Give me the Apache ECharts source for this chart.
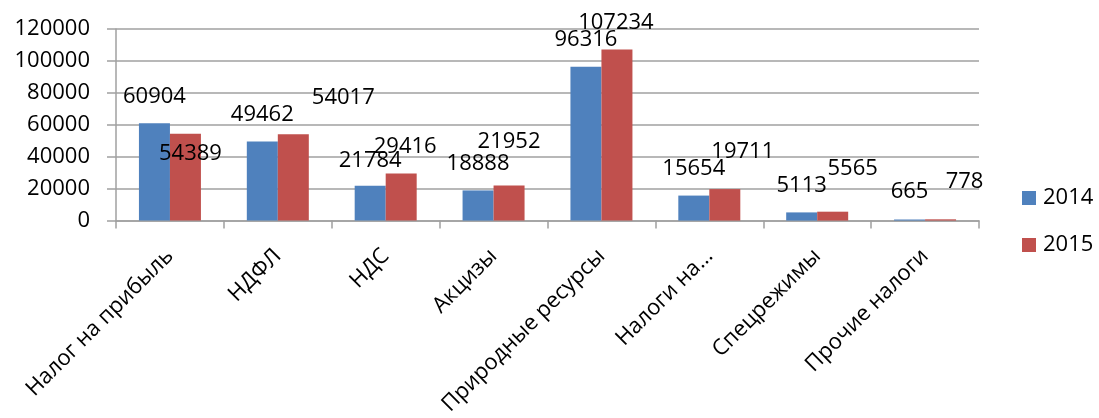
<!DOCTYPE html>
<html>
<head>
<meta charset="utf-8">
<script src="https://cdn.jsdelivr.net/npm/echarts@6/dist/echarts.min.js"></script>
<style>
  html, body { margin: 0; padding: 0; background: #fff; }
  #chart { width: 1099px; height: 418px; }
</style>
</head>
<body>
<div id="chart"></div>
<script>
  // налоговые поступления по видам налогов
  const categories = ['Налог на прибыль', 'НДФЛ', 'НДС', 'Акцизы', 'Природные ресурсы', 'Налоги на…', 'Спецрежимы', 'Прочие налоги']
  const years = ['2014', '2015']
  const values2014 = [60904, 49462, 21784, 18888, 96316, 15654, 5113, 665]
  const values2015 = [54389, 54017, 29416, 21952, 107234, 19711, 5565, 778]
  const yTicks = [0, 20000, 40000, 60000, 80000, 100000, 120000]

  // сдвиги подписей (как на исходной диаграмме, подписи смещены вручную)
  const shift2014 = [[0, -27], [0, -27], [0, -25], [0, -27], [0, -27], [0, -27], [0, -27], [0, -28]]
  const shift2015 = [[5, 20], [50, -37], [4, -27], [0, -44], [-1, -27], [18, -37], [20, -43], [24, -38]]

  const font = '"Open Sans", "DejaVu Sans", sans-serif'
  const gridColor = '#a0a0a0'

  function buildData(vals, shifts) {
    return vals.map((v, i) => ({
      value: v,
      label: {offset: shifts[i]}
    }))
  }

  const chart = echarts.init(document.getElementById('chart'), null, {renderer: 'canvas'})
  chart.setOption({
    animation: false,
    textStyle: {fontFamily: font},
    grid: {left: 116, right: 120, top: 29, bottom: 196, containLabel: false},
    legend: {
      data: years,
      orient: 'vertical',
      left: 1017,
      top: 182,
      itemWidth: 14,
      itemHeight: 14,
      itemGap: 25,
      icon: 'rect',
      textStyle: {fontFamily: font, fontSize: 22, color: '#000', padding: [0, 0, 0, 2]}
    },
    xAxis: {
      type: 'category',
      data: categories,
      axisLine: {lineStyle: {color: gridColor, width: 1.5}},
      axisTick: {show: true, length: 8, lineStyle: {color: gridColor, width: 1.5}},
      axisLabel: {
        interval: 0,
        rotate: 45,
        margin: 32,
        fontFamily: font,
        fontSize: 22,
        color: '#000'
      }
    },
    yAxis: {
      type: 'value',
      min: yTicks[0],
      max: yTicks[yTicks.length - 1],
      interval: yTicks[1] - yTicks[0],
      axisLine: {show: true, lineStyle: {color: gridColor, width: 1.5}},
      axisTick: {show: true, length: 9, lineStyle: {color: gridColor, width: 1.5}},
      splitLine: {lineStyle: {color: gridColor, width: 1.5}},
      axisLabel: {margin: 26, fontFamily: font, fontSize: 22, color: '#000', formatter: v => String(v)}
    },
    series: [
      {
        name: years[0],
        type: 'bar',
        barWidth: 31,
        barGap: 0,
        itemStyle: {color: '#4F81BD'},
        label: {
          show: true,
          position: ['50%', 0],
          align: 'center',
          verticalAlign: 'middle',
          fontFamily: font,
          fontSize: 22,
          color: '#000'
        },
        data: buildData(values2014, shift2014)
      },
      {
        name: years[1],
        type: 'bar',
        barWidth: 31,
        barGap: 0,
        itemStyle: {color: '#C0504D'},
        label: {
          show: true,
          position: ['50%', 0],
          align: 'center',
          verticalAlign: 'middle',
          fontFamily: font,
          fontSize: 22,
          color: '#000'
        },
        data: buildData(values2015, shift2015)
      }
    ]
  })
</script>
</body>
</html>
